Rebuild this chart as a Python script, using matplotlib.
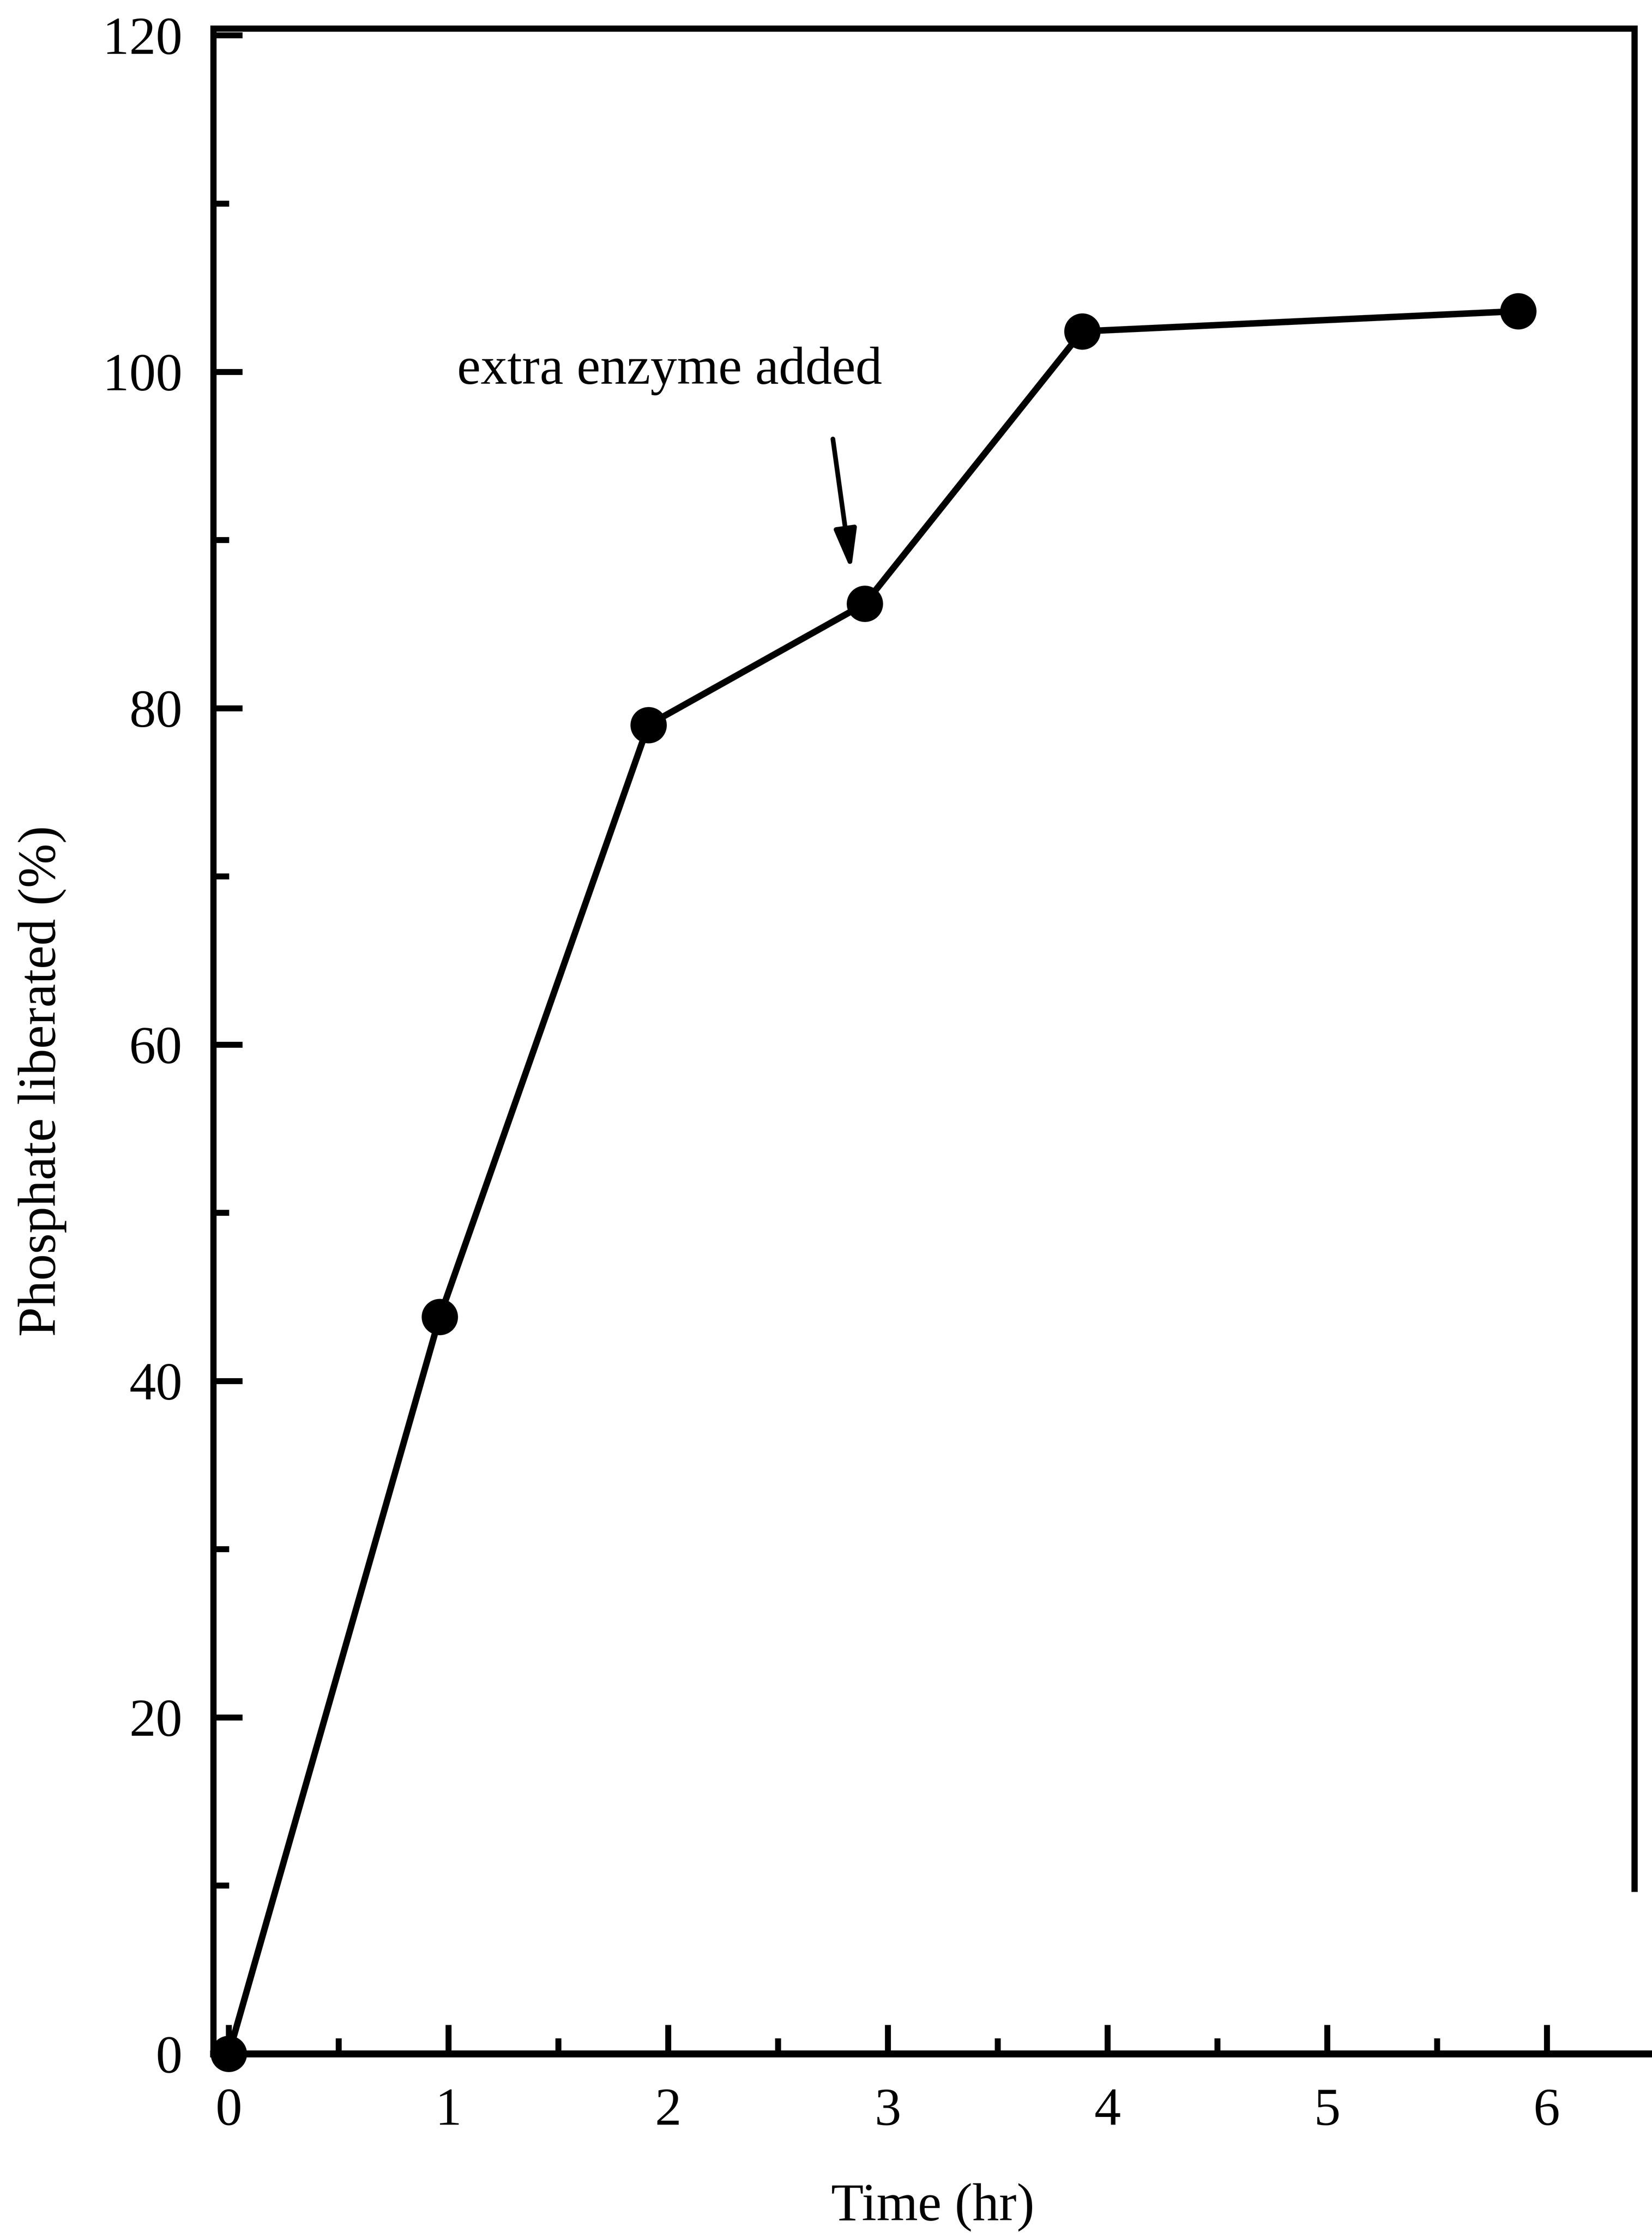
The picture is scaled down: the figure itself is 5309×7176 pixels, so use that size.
import matplotlib
matplotlib.use("Agg")
import matplotlib.pyplot as plt
from matplotlib.ticker import MultipleLocator

plt.rcParams['font.family'] = ['Liberation Serif', 'DejaVu Serif']

# values
time_hr = [0, 0.96, 1.91, 2.895, 3.885, 5.87]
phosphate_pct = [0, 43.8, 79.0, 86.2, 102.4, 103.6]
x_ticks = [0, 1, 2, 3, 4, 5, 6]
y_ticks = [0, 20, 40, 60, 80, 100, 120]
note_text = "extra enzyme added"
note_xy = (1.04, 99.3)
arrow_tail = (2.75, 96.0)
arrow_head = (2.833, 88.2)

fig = plt.figure(figsize=(5309 / 600, 7176 / 600), dpi=600)
ax = fig.add_axes([0.1292, 0.0803, 0.8708, 0.9069])

ax.plot(time_hr, phosphate_pct, '-o', color='black', lw=2.5, ms=13,
        clip_on=False, zorder=3)

ax.set_xlim(-0.07, 6.479)
ax.set_ylim(0, 120.4)

# -----------------------------
# axes frame
# -----------------------------
for side in ['left', 'top', 'right']:
    ax.spines[side].set_linewidth(2.4)
ax.spines['bottom'].set_linewidth(2.7)
ax.spines['top'].set_bounds(-0.07, 6.40)
ax.spines['right'].set_position(('data', 6.40))
ax.spines['right'].set_bounds(9.8, 120.4)

ax.set_xticks(x_ticks)
ax.set_yticks(y_ticks)
ax.xaxis.set_minor_locator(MultipleLocator(0.5))
ax.yaxis.set_minor_locator(MultipleLocator(10))
ax.tick_params(which='both', direction='in', top=False, right=False,
               width=2.3, labelsize=20.5)
ax.tick_params(which='major', length=11.2)
ax.tick_params(which='minor', length=6)
ax.tick_params(axis='x', which='major', pad=13)
ax.tick_params(axis='y', which='major', pad=12)

ax.set_xlabel("Time (hr)", fontsize=20.5, labelpad=18)
ax.set_ylabel("Phosphate liberated (%)", fontsize=20.5)
ax.yaxis.set_label_coords(-0.102, 0.4803)

# -----------------------------
# annotation
# -----------------------------
ax.text(note_xy[0], note_xy[1], note_text, fontsize=20.5,
        ha='left', va='baseline')
ax.annotate('', xy=arrow_head, xytext=arrow_tail,
            arrowprops=dict(arrowstyle='-|>,head_length=1.08,head_width=0.3',
                            mutation_scale=12, lw=1.8, color='black',
                            shrinkA=0, shrinkB=0))

fig.savefig("out.png", dpi=600)
